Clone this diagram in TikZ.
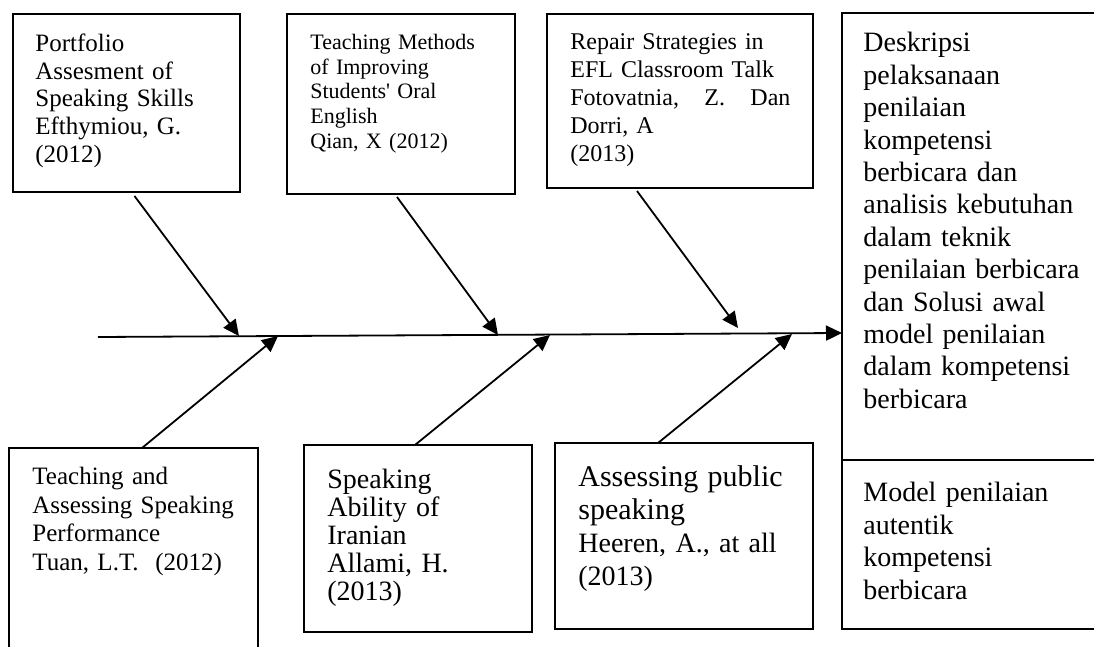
\documentclass[tikz,border=0pt]{standalone}
\usepackage{fontspec}
\setmainfont{Liberation Serif}
\usetikzlibrary{arrows.meta}

\begin{document}
\begin{tikzpicture}[x=0.5pt,y=-0.5pt,
  box/.style={draw,line width=0.9pt,anchor=north west,inner sep=0pt,outer sep=0pt},
  txt/.style={anchor=north west,inner sep=0pt,align=left,text width=#1},
  txt/.default=130pt,
  bone/.style={line width=0.9pt,-{Triangle[length=8pt,width=7.5pt]}}]
\clip (0,0) rectangle (1094,647);
\fill[white] (0,0) rectangle (1094,647);

% boxes on top
\node[box,minimum width=113.5pt,minimum height=89pt] (pf) at (13,14) {};
\node[box,minimum width=114pt,minimum height=90pt] (tm) at (287,14) {};
\node[box,minimum width=133pt,minimum height=87pt] (rs) at (547,14) {};
% boxes below
\node[box,minimum width=124.5pt,minimum height=110pt] (ta) at (9,448) {};
\node[box,minimum width=114pt,minimum height=93.5pt] (sa) at (304,445) {};
\node[box,minimum width=129pt,minimum height=93pt] (ap) at (555,443) {};
% result
\node[box,minimum width=135pt,minimum height=223.5pt] (res) at (842,13) {};
\node[box,minimum width=135pt,minimum height=84.5pt] (mdl) at (842,460) {};

% texts
\node[txt,font=\fontsize{12.5}{14}\selectfont] (pftext) at ([shift={(22,19)}]pf.north west)
  {Portfolio\\Assesment of\\Speaking Skills\\Efthymiou, G.\\(2012)};
\node[txt,font=\fontsize{11}{12.3}\selectfont] (tmtext) at ([shift={(23,20)}]tm.north west)
  {Teaching Methods\\of Improving\\Students\textquotesingle{} Oral\\English\\Qian, X (2012)};
\node[txt,font=\fontsize{12}{14}\selectfont] (rstext) at ([shift={(23,19)}]rs.north west)
  {Repair Strategies in\\EFL Classroom Talk\\\makebox[110pt][l]{Fotovatnia,\hfill Z.\hfill Dan}\\Dorri, A\\(2013)};
\node[txt,font=\fontsize{12.5}{14.3}\selectfont] (tatext) at ([shift={(23,19)}]ta.north west)
  {Teaching and\\Assessing Speaking\\Performance\\Tuan, L.T.~~(2012)};
\node[txt,font=\fontsize{14}{14}\selectfont] (satext) at ([shift={(23,24)}]sa.north west)
  {Speaking\\Ability of\\Iranian\\Allami, H.\\(2013)};
\node[txt,font=\fontsize{14}{16.5}\selectfont] (aptext) at ([shift={(23,22)}]ap.north west)
  {{\fontsize{15}{16.5}\selectfont Assessing public}\\{\fontsize{15}{16.5}\selectfont speaking}\\Heeren, A., at all\\(2013)};
\node[txt,font=\fontsize{14}{16.2}\selectfont] (restext) at ([shift={(21,19)}]res.north west)
  {Deskripsi\\pelaksanaan\\penilaian\\kompetensi\\berbicara dan\\analisis kebutuhan\\dalam teknik\\penilaian berbicara\\dan Solusi awal\\model penilaian\\dalam kompetensi\\berbicara};
\node[txt,font=\fontsize{14}{16.2}\selectfont] (mdltext) at ([shift={(21,22)}]mdl.north west)
  {Model penilaian\\autentik\\kompetensi\\berbicara};

% spine
\coordinate (tail) at (98,337);
\draw[bone] (tail) -- ([yshift=2pt]tail -| res.west);
\coordinate (c1) at (239,336);
\coordinate (c2) at (498,335);
\coordinate (c3) at (738,328);
\coordinate (d1) at (278,336);
\coordinate (d2) at (550,335);
\coordinate (d3) at (792,334);
\draw[bone] ([shift={(8,4)}]pf.south) -- (c1);
\draw[bone] ([shift={(-4,3)}]tm.south) -- (c2);
\draw[bone] ([shift={(-43,3)}]rs.south) -- (c3);
\draw[bone] ([shift={(8.5,0)}]ta.north) -- (d1);
\draw[bone] ([shift={(-3,0)}]sa.north) -- (d2);
\draw[bone] ([shift={(-26,0)}]ap.north) -- (d3);
\end{tikzpicture}
\end{document}
